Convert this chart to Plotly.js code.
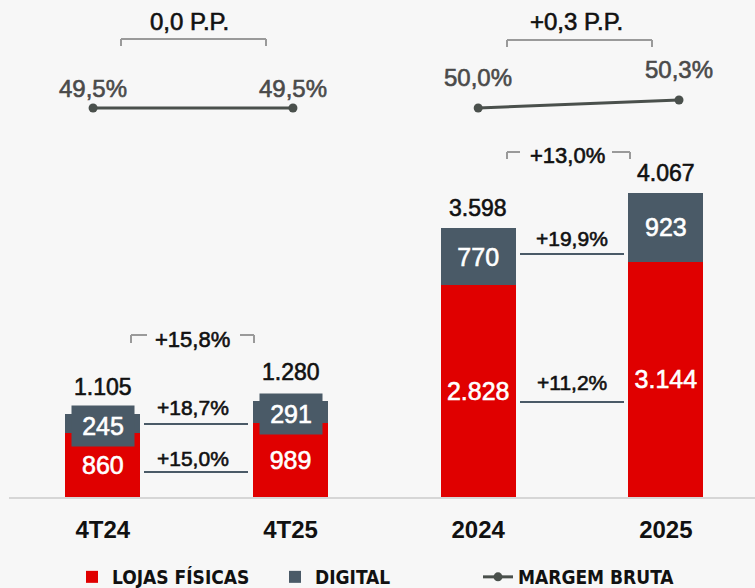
<!DOCTYPE html>
<html>
<head>
<meta charset="utf-8">
<script src="https://cdn.plot.ly/plotly-3.0.1.min.js"></script>
<style>
  html, body { margin: 0; padding: 0; background: #f7f7f7; }
  #chart { width: 755px; height: 588px; }
</style>
</head>
<body>
<div id="chart"></div>
<script>
// ---------- DATA ----------
const categories = ['4T24', '4T25', '2024', '2025'];
const lojasFisicas = [860, 989, 2828, 3144];
const digital = [245, 291, 770, 923];
const totals = [1105, 1280, 3598, 4067];
const margemQuarter = [49.5, 49.5];      // 4T24, 4T25
const margemYear = [50.0, 50.3];         // 2024, 2025
const margemQuarterLabels = ['49,5%', '49,5%'];
const margemYearLabels = ['50,0%', '50,3%'];
const ppLabels = ['0,0 P.P.', '+0,3 P.P.'];
const totalGrowth = ['+15,8%', '+13,0%'];
const digitalGrowth = ['+18,7%', '+19,9%'];
const lojasGrowth = ['+15,0%', '+11,2%'];

// ---------- STYLE ----------
const RED = '#e00000';
const SLATE = '#4a5a67';
const LINEC = '#4a504c';
const GREY = '#9a9a9a';
const BG = '#f7f7f7';
const FONT = 'Liberation Sans, Arial, Helvetica, sans-serif';
const NARROW = 'Liberation Sans Narrow, Arial Narrow, DejaVu Sans Condensed, sans-serif';

const W = 755, H = 588;
const ML = 9, MB = 91, MT = 0, MR = 0;
const PW = W - ML - MR, PH = H - MT - MB;
const YMAX = 6644;
const X = px => (px - ML) / PW;         // pixel -> paper x
const Y = py => (PH + MT - py) / PH;    // pixel -> paper y
const lineXOffset = [-0.052, 0.013, 0.0, 0.07];

const idx = categories.map((c, i) => i);
const fmt = v => v.toLocaleString('de-DE');

const traces = [
  {
    type: 'bar', name: 'LOJAS FÍSICAS', x: idx, y: lojasFisicas,
    marker: { color: RED }, width: 0.4,
    text: lojasFisicas.map(fmt), textposition: 'inside', insidetextanchor: 'middle',
    constraintext: 'none', textfont: { color: '#ffffff', size: 25, family: FONT },
    hoverinfo: 'skip'
  },
  {
    type: 'bar', name: 'DIGITAL', x: idx, y: digital,
    marker: { color: SLATE }, width: 0.4,
    text: digital.map(v => v * PH / YMAX > 40 ? fmt(v) : ''),
    textposition: 'inside', insidetextanchor: 'middle',
    constraintext: 'none', textfont: { color: '#ffffff', size: 25, family: FONT },
    hoverinfo: 'skip'
  },
  {
    type: 'scatter', mode: 'lines+markers', name: 'MARGEM BRUTA',
    x: [0 + lineXOffset[0], 1 + lineXOffset[1]], y: margemQuarter, yaxis: 'y2',
    line: { color: LINEC, width: 3 }, marker: { color: LINEC, size: 9 },
    hoverinfo: 'skip'
  },
  {
    type: 'scatter', mode: 'lines+markers', name: 'MARGEM BRUTA', showlegend: false,
    x: [2 + lineXOffset[2], 3 + lineXOffset[3]], y: margemYear, yaxis: 'y3',
    line: { color: LINEC, width: 3 }, marker: { color: LINEC, size: 9 },
    hoverinfo: 'skip'
  }
];

const annotations = [];
const shapes = [];

// small digital segments: label in a box wider than the segment
digital.forEach((v, i) => {
  if (v * PH / YMAX <= 40) {
    annotations.push({
      x: i, y: lojasFisicas[i] + v / 2, xref: 'x', yref: 'y', yshift: -2,
      text: fmt(v), showarrow: false, bgcolor: SLATE, width: 60, height: 38,
      font: { color: '#ffffff', size: 25, family: FONT }
    });
  }
});

// totals above bars
const totalShift = [27, 29, 20, 20];
totals.forEach((t, i) => {
  annotations.push({
    x: i, y: t, xref: 'x', yref: 'y', yshift: totalShift[i], yanchor: 'middle',
    text: fmt(t), showarrow: false, font: { color: '#111111', size: 23, family: FONT }
  });
});

// margem labels
margemQuarter.forEach((v, i) => {
  annotations.push({
    x: i + lineXOffset[i], y: v, xref: 'x', yref: 'y2', yshift: 20, yanchor: 'middle',
    text: margemQuarterLabels[i], showarrow: false,
    font: { color: '#4a4a4a', size: 24, family: FONT }
  });
});
margemYear.forEach((v, i) => {
  annotations.push({
    x: i + 2 + lineXOffset[i + 2], y: v, xref: 'x', yref: 'y3', yshift: 30, yanchor: 'middle',
    text: margemYearLabels[i], showarrow: false,
    font: { color: '#4a4a4a', size: 24, family: FONT }
  });
});

function txt(px, py, t, size) {
  annotations.push({
    x: X(px), y: Y(py), xref: 'paper', yref: 'paper', xanchor: 'center', yanchor: 'middle',
    text: t, showarrow: false, font: { color: '#111111', size: size, family: FONT }
  });
}
function seg(x0, y0, x1, y1, color, w) {
  shapes.push({
    type: 'line', xref: 'paper', yref: 'paper',
    x0: X(x0), y0: Y(y0), x1: X(x1), y1: Y(y1),
    line: { color: color, width: w }
  });
}

// P.P. brackets
txt(189, 21, ppLabels[0], 24);
seg(121, 46, 121, 39, GREY, 2); seg(121, 39, 266, 39, GREY, 2); seg(266, 39, 266, 46, GREY, 2);
txt(576, 22, ppLabels[1], 24);
seg(507, 47, 507, 40, GREY, 2); seg(507, 40, 652, 40, GREY, 2); seg(652, 40, 652, 47, GREY, 2);

// total growth brackets
txt(192, 339, totalGrowth[0], 22);
seg(131, 343, 131, 335, GREY, 2); seg(131, 335, 147, 335, GREY, 2);
seg(240, 335, 254, 335, GREY, 2); seg(254, 335, 254, 343, GREY, 2);
txt(567, 155, totalGrowth[1], 22);
seg(507, 159, 507, 152, GREY, 2); seg(507, 152, 520, 152, GREY, 2);
seg(612, 152, 630, 152, GREY, 2); seg(630, 152, 630, 159, GREY, 2);

// segment growth
txt(193, 407, digitalGrowth[0], 21); seg(144, 424, 248, 424, SLATE, 2);
txt(193, 458, lojasGrowth[0], 21); seg(144, 472, 248, 472, SLATE, 2);
txt(572, 238, digitalGrowth[1], 21); seg(520, 254, 624, 254, SLATE, 2);
txt(572, 382, lojasGrowth[1], 21); seg(520, 402, 624, 402, SLATE, 2);

const layout = {
  width: W, height: H,
  margin: { l: ML, r: MR, t: MT, b: MB, pad: 0, autoexpand: false },
  paper_bgcolor: BG, plot_bgcolor: BG,
  barmode: 'stack', separators: ',.',
  font: { family: FONT, color: '#111111' },
  xaxis: {
    type: 'linear', range: [-0.5, 3.475], tickvals: idx, ticktext: categories,
    tickfont: { family: FONT, size: 24, color: '#111111', weight: 'bold' },
    showgrid: false, zeroline: false, showline: true, linecolor: '#d6d6d6', linewidth: 2,
    ticks: '', ticklabelstandoff: 10, fixedrange: true, automargin: false
  },
  yaxis: { range: [0, YMAX], visible: false, fixedrange: true },
  yaxis2: { overlaying: 'y', range: [48.7173, 49.7173], visible: false },
  yaxis3: { overlaying: 'y', range: [35.41, 54.05], visible: false },
  showlegend: true,
  legend: {
    orientation: 'h', x: X(72), xanchor: 'left', y: Y(577), yanchor: 'middle',
    font: { family: NARROW, size: 19, color: '#111111', weight: 'bold' },
    bgcolor: 'rgba(0,0,0,0)', entrywidth: 158, traceorder: 'normal'
  },
  annotations: annotations, shapes: shapes
};

Plotly.newPlot('chart', traces, layout, { displayModeBar: false, staticPlot: true }).then(gd => {
  // medium-weight look for regular-weight chart texts: thin stroke in the text's own fill colour
  gd.querySelectorAll('.annotation-text, .bartext').forEach(t => {
    const f = t.style.fill || window.getComputedStyle(t).fill;
    t.style.stroke = f;
    t.style.strokeWidth = '0.6px';
  });
});
</script>
</body>
</html>
